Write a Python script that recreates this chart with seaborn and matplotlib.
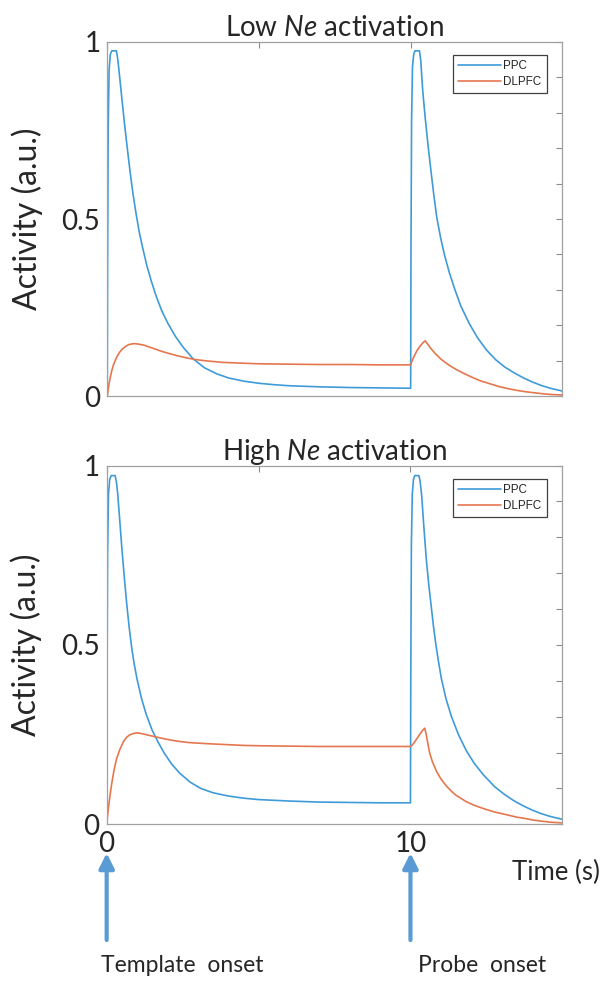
#import necessary packages
import numpy as np
import pandas as pd
from matplotlib import pyplot as plt
import seaborn as sns

#values (time in s, activity in a.u.)
low_ppc_t = [0, 0.01, 0.03, 0.06, 0.10, 0.15, 0.30, 0.34, 0.38, 0.44, 0.50, 0.58, 0.66, 0.75,
             0.85, 0.95, 1.05, 1.15, 1.30, 1.45, 1.60, 1.80, 2.00, 2.25, 2.50, 2.83, 3.20,
             3.60, 4.00, 4.50, 5.00, 5.50, 6.00, 7.00, 8.00, 9.00, 10.0,
             10.01, 10.03, 10.06, 10.10, 10.14, 10.29, 10.33, 10.40, 10.48, 10.57, 10.67,
             10.76, 10.86, 10.98, 11.11, 11.27, 11.44, 11.65, 11.93, 12.20, 12.50, 12.81,
             13.10, 13.40, 13.70, 14.00, 14.30, 14.60, 15.0]
low_ppc = [0, 0.35, 0.75, 0.92, 0.965, 0.975, 0.975, 0.955, 0.925, 0.875, 0.825, 0.76, 0.70, 0.635,
           0.57, 0.515, 0.465, 0.425, 0.37, 0.325, 0.285, 0.24, 0.205, 0.168, 0.138, 0.105, 0.080,
           0.063, 0.051, 0.042, 0.036, 0.032, 0.029, 0.026, 0.024, 0.023, 0.022,
           0.40, 0.78, 0.93, 0.965, 0.975, 0.975, 0.95, 0.86, 0.785, 0.71, 0.635,
           0.57, 0.505, 0.45, 0.40, 0.35, 0.305, 0.255, 0.205, 0.165, 0.13, 0.102,
           0.082, 0.066, 0.052, 0.040, 0.030, 0.022, 0.014]

low_dlpfc_t = [0, 0.05, 0.10, 0.15, 0.20, 0.30, 0.40, 0.50, 0.60, 0.70, 0.80, 0.90, 1.00, 1.20,
               1.40, 1.60, 1.80, 2.00, 2.30, 2.60, 2.90, 3.30, 3.80, 4.40, 5.00, 6.00, 7.00,
               8.00, 9.00, 10.0, 10.05, 10.10, 10.20, 10.30, 10.40, 10.48, 10.55, 10.65, 10.80,
               11.00, 11.25, 11.50, 11.75, 12.00, 12.30, 12.60, 12.90, 13.20, 13.50, 13.80,
               14.10, 14.40, 14.70, 15.0]
low_dlpfc = [0, 0.03, 0.053, 0.072, 0.087, 0.108, 0.123, 0.133, 0.14, 0.145, 0.147, 0.148, 0.147,
             0.144, 0.138, 0.132, 0.126, 0.121, 0.114, 0.108, 0.103, 0.099, 0.095, 0.093, 0.091,
             0.090, 0.089, 0.089, 0.088, 0.088, 0.10, 0.11, 0.127, 0.140, 0.150, 0.156, 0.148,
             0.136, 0.121, 0.104, 0.088, 0.075, 0.064, 0.054, 0.043, 0.035, 0.027, 0.021, 0.016,
             0.012, 0.009, 0.006, 0.004, 0.003]

high_ppc_t = [0, 0.01, 0.03, 0.06, 0.10, 0.15, 0.28, 0.32, 0.36, 0.42, 0.50, 0.58, 0.66, 0.74,
              0.82, 0.90, 1.00, 1.15, 1.30, 1.50, 1.70, 1.90, 2.14, 2.40, 2.74, 3.10, 3.50,
              4.00, 4.50, 5.00, 6.00, 7.00, 8.00, 9.00, 10.0,
              10.01, 10.03, 10.06, 10.10, 10.14, 10.28, 10.32, 10.37, 10.44, 10.52, 10.60,
              10.68, 10.76, 10.83, 10.92, 11.02, 11.17, 11.35, 11.58, 11.84, 12.10, 12.40,
              12.77, 13.10, 13.40, 13.70, 14.00, 14.30, 14.60, 15.0]
high_ppc = [0, 0.35, 0.75, 0.92, 0.962, 0.972, 0.972, 0.955, 0.925, 0.86, 0.77, 0.69, 0.615, 0.55,
            0.495, 0.45, 0.405, 0.35, 0.307, 0.262, 0.228, 0.198, 0.168, 0.143, 0.118, 0.100, 0.088,
            0.079, 0.073, 0.069, 0.065, 0.062, 0.061, 0.060, 0.060,
            0.40, 0.78, 0.92, 0.962, 0.972, 0.972, 0.955, 0.915, 0.83, 0.74, 0.67,
            0.61, 0.55, 0.505, 0.455, 0.405, 0.35, 0.30, 0.25, 0.205, 0.17, 0.138,
            0.105, 0.083, 0.066, 0.052, 0.040, 0.030, 0.022, 0.014]

high_dlpfc_t = [0, 0.04, 0.08, 0.12, 0.16, 0.24, 0.33, 0.44, 0.55, 0.65, 0.75, 0.87, 0.99, 1.15,
                1.30, 1.55, 1.81, 2.10, 2.40, 2.70, 3.07, 3.50, 4.00, 4.50, 5.04, 6.00, 7.00,
                8.00, 9.00, 10.0, 10.07, 10.14, 10.22, 10.30, 10.40, 10.47, 10.52, 10.58, 10.63,
                10.72, 10.86, 11.00, 11.18, 11.35, 11.50, 11.84, 12.10, 12.40, 12.70, 12.94,
                13.20, 13.50, 13.80, 14.03, 14.30, 14.60, 15.0]
high_dlpfc = [0, 0.032, 0.06, 0.086, 0.11, 0.15, 0.184, 0.21, 0.23, 0.242, 0.249, 0.253, 0.255,
              0.253, 0.25, 0.245, 0.24, 0.235, 0.231, 0.228, 0.226, 0.224, 0.222, 0.220, 0.219,
              0.218, 0.217, 0.217, 0.217, 0.217, 0.222, 0.23, 0.24, 0.25, 0.262, 0.268, 0.25,
              0.222, 0.20, 0.175, 0.147, 0.127, 0.107, 0.092, 0.081, 0.063, 0.053, 0.044, 0.036,
              0.031, 0.026, 0.02, 0.016, 0.012, 0.009, 0.006, 0.004]

x_ticks = [0, 5, 10]
x_tick_labels = ['0', '', '10']
y_ticks = [0, 0.1, 0.2, 0.3, 0.4, 0.5, 0.6, 0.7, 0.8, 0.9, 1.0]
y_tick_labels = ['0', '', '', '', '', '0.5', '', '', '', '', '1']

blue = '#3f9bd8'
orange = '#e5774f'
arrow_blue = '#5b9bd5'

sns.set_style('white')
plt.rcParams['font.family'] = ['Lato', 'DejaVu Sans']
plt.rcParams['mathtext.fontset'] = 'custom'
plt.rcParams['mathtext.rm'] = 'Lato'
plt.rcParams['mathtext.it'] = 'Lato:italic'

fig = plt.figure(figsize=(6.06, 9.81), dpi=100)
ax1 = fig.add_axes([0.177, 0.5963, 0.751, 0.3609])
ax2 = fig.add_axes([0.176, 0.1597, 0.752, 0.3657])

panels = [(ax1, 'Low', low_ppc_t, low_ppc, low_dlpfc_t, low_dlpfc),
          (ax2, 'High', high_ppc_t, high_ppc, high_dlpfc_t, high_dlpfc)]

for ax, level, pt, pv, dt, dv in panels:
    ppc_df = pd.DataFrame({'Time': pt, 'Activity': pv})
    dlpfc_df = pd.DataFrame({'Time': dt, 'Activity': dv})
    sns.lineplot(data=ppc_df, x='Time', y='Activity', estimator=None, sort=False,
                 color=blue, linewidth=1.2, label='PPC', ax=ax)
    sns.lineplot(data=dlpfc_df, x='Time', y='Activity', estimator=None, sort=False,
                 color=orange, linewidth=1.2, label='DLPFC', ax=ax)
    ax.set_xlim(0, 15)
    ax.set_ylim(0, 1)
    ax.set_xticks(x_ticks)
    ax.set_yticks(y_ticks)
    ax.set_yticklabels(y_tick_labels)
    ax.set_xlabel('')
    ax.set_ylabel('Activity (a.u.)', fontsize=23)
    ax.yaxis.set_label_coords(-0.142, 0.5)
    ax.set_title(level + r' $\mathit{Ne}$ activation', fontsize=20, pad=4)
    ax.tick_params(direction='in', length=4, width=0.8, color='#8c8c8c',
                   top=True, right=True, labelsize=20, pad=5)
    for s in ax.spines.values():
        s.set_color('#a0a0a0')
        s.set_linewidth(0.9)
    #legend box in the upper right corner like the matlab one
    leg = ax.legend(loc='upper right', bbox_to_anchor=(0.9657, 0.963), borderaxespad=0,
                    prop={'family': 'Liberation Sans', 'size': 8.4}, fancybox=False,
                    framealpha=1, edgecolor='#404040', handlelength=3.7,
                    handletextpad=0.2, labelspacing=0.3, borderpad=0.45)
    leg.get_frame().set_linewidth(0.9)

ax1.set_xticklabels(['', '', ''])
ax2.set_xticklabels(x_tick_labels)

#onset arrows under the bottom panel
for t0 in [0, 10]:
    ax2.annotate('', xy=(t0, -0.08), xytext=(t0, -0.3226), xycoords=ax2.get_xaxis_transform(),
                 arrowprops=dict(arrowstyle='-|>,head_width=0.45,head_length=0.9',
                                 color=arrow_blue, lw=3, shrinkA=0, shrinkB=0),
                 annotation_clip=False)

fig.text(600 / 606, 1 - 872 / 981, 'Time (s)', fontsize=18.5, ha='right', va='center')
fig.text(101 / 606, 1 - 965 / 981, 'Template  onset', fontsize=16.5, ha='left', va='center')
fig.text(418 / 606, 1 - 965 / 981, 'Probe  onset', fontsize=16.5, ha='left', va='center')

plt.savefig('out.png', dpi=100)
